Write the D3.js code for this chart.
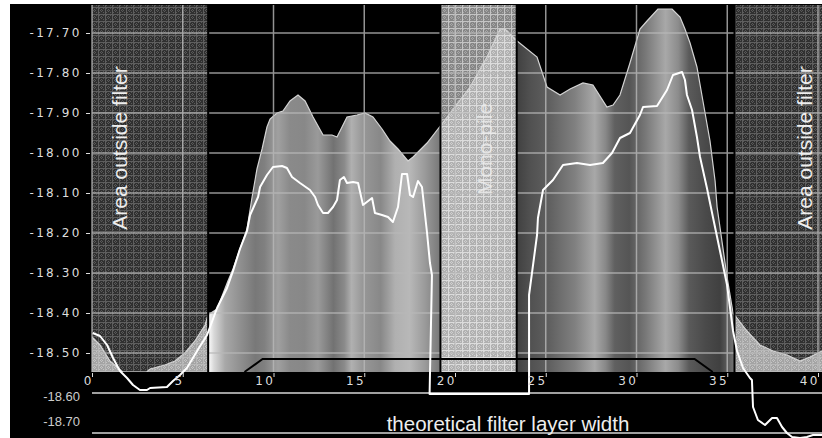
<!DOCTYPE html>
<html>
<head>
<meta charset="utf-8">
<script src="https://cdn.jsdelivr.net/npm/d3@7"></script>
<style>
  body { margin: 0; background: #fff; }
  svg { display: block; }
  .tick text { font-family: "DejaVu Sans", sans-serif; font-size: 12px; letter-spacing: 2.2px; fill: #dddddd; }
  .tick line { stroke: #dddddd; }
  .low { font-family: "Liberation Sans", Arial, sans-serif; font-size: 13px; fill: #cccccc; }
  .big { font-family: "Liberation Sans", Arial, sans-serif; font-size: 21px; fill: #eeeeee; }
</style>
</head>
<body>
<div id="chart"></div>
<script>

// chart values
var envX = [0, 0.44, 0.99, 1.71, 3.0, 3.2, 4.02, 4.57, 5.12, 5.67, 6.23, 6.39, 6.89, 7.49, 7.77, 8.15, 8.54, 8.82, 9.09, 9.37, 9.64, 9.81, 10.19, 10.52, 10.91, 11.35, 11.74, 12.18, 12.73, 13.22, 13.5, 14.05, 14.6, 15.04, 15.48, 15.98, 16.42, 16.86, 17.41, 17.69, 18.46, 19.06, 20.83, 21.76, 22.48, 22.75, 23.42, 24.52, 25.07, 25.79, 26.34, 27.05, 27.6, 28.37, 28.71, 29.09, 29.64, 30.19, 30.58, 31.18, 31.96, 32.4, 32.67, 32.95, 33.33, 33.66, 34.05, 34.33, 34.44, 34.99, 35.32, 36.09, 36.8, 37.52, 38.29, 39.01, 39.56, 40.22];
var envY = [-18.46, -18.48, -18.52, -18.548, -18.548, -18.54, -18.53, -18.52, -18.50, -18.47, -18.43, -18.405, -18.39, -18.32, -18.29, -18.24, -18.19, -18.11, -18.04, -17.99, -17.935, -17.915, -17.90, -17.895, -17.87, -17.855, -17.87, -17.91, -17.955, -17.955, -17.96, -17.91, -17.905, -17.90, -17.91, -17.94, -17.97, -17.99, -18.02, -18.01, -17.975, -17.94, -17.835, -17.76, -17.69, -17.69, -17.72, -17.76, -17.835, -17.855, -17.84, -17.825, -17.83, -17.885, -17.88, -17.855, -17.775, -17.69, -17.67, -17.64, -17.64, -17.66, -17.69, -17.725, -17.785, -17.87, -17.97, -18.07, -18.135, -18.31, -18.40, -18.445, -18.48, -18.495, -18.505, -18.52, -18.51, -18.495];

var lineX = [0.04, 0.44, 0.83, 1.16, 1.54, 1.93, 2.26, 2.64, 3.03, 3.2, 4.13, 4.46, 4.85, 5.23, 5.79, 6.34, 6.89, 7.44, 7.77, 8.15, 8.54, 8.71, 9.15, 9.26, 9.64, 9.97, 10.47, 10.74, 11.02, 11.46, 12.01, 12.29, 12.45, 12.73, 13.0, 13.28, 13.5, 13.66, 13.88, 14.05, 14.38, 14.66, 14.93, 15.43, 15.59, 15.98, 16.31, 16.58, 16.86, 17.08, 17.36, 17.52, 17.69, 17.96, 18.18, 18.46, 18.62, 18.73, 18.6, 24.08, 24.08, 24.52, 24.57, 24.85, 25.4, 25.95, 26.72, 27.44, 28.15, 28.65, 29.09, 29.64, 30.19, 30.36, 31.13, 31.68, 32.01, 32.51, 32.67, 32.78, 33.06, 33.33, 33.5, 33.88, 34.21, 34.6, 34.99, 35.32, 35.54, 35.87, 36.25, 36.36, 36.42, 36.69, 37.08, 37.47, 37.74, 38.02, 38.29, 38.57, 39.01, 39.39, 39.72, 40.22];
var lineY = [-18.45, -18.4575, -18.48, -18.5125, -18.545, -18.5625, -18.58, -18.5925, -18.5925, -18.5875, -18.585, -18.57, -18.555, -18.5375, -18.495, -18.455, -18.3875, -18.3375, -18.295, -18.24, -18.195, -18.155, -18.11, -18.085, -18.055, -18.035, -18.0325, -18.0375, -18.06, -18.075, -18.0925, -18.11, -18.13, -18.15, -18.15, -18.135, -18.1175, -18.0675, -18.06, -18.075, -18.0725, -18.075, -18.13, -18.1125, -18.15, -18.155, -18.16, -18.1725, -18.135, -18.0525, -18.0525, -18.105, -18.11, -18.07, -18.085, -18.20, -18.275, -18.305, -18.6025, -18.6025, -18.355, -18.205, -18.1625, -18.0925, -18.0675, -18.03, -18.025, -18.03, -18.025, -18.00, -17.9625, -17.95, -17.905, -17.885, -17.8825, -17.8425, -17.805, -17.7975, -17.8175, -17.855, -17.8925, -17.96, -18.01, -18.0875, -18.16, -18.245, -18.33, -18.445, -18.495, -18.5375, -18.5625, -18.5675, -18.635, -18.6675, -18.68, -18.6625, -18.6625, -18.685, -18.70, -18.71, -18.7125, -18.71, -18.705, -18.705];

var xTicks = [0, 5, 10, 15, 20, 25, 30, 35, 40];
var yTicks = [-17.70, -17.80, -17.90, -18.00, -18.10, -18.20, -18.30, -18.40, -18.50];
var lowTicks = [-18.60, -18.70];

var outsideZones = [[0, 6.4], [35.4, 40.3]];
var monoZone = [19.2, 23.4];
var filterX = [8.4, 9.4, 33.2, 34.2];
var filterY = [-18.5475, -18.515, -18.515, -18.5475];

// gray bands of the fill, [x, grey level]
var bandStops = [[6.39, 255], [6.72, 216], [7.33, 168], [8.15, 144], [9.0, 120], [9.5, 128], [10.25, 160], [10.9, 138], [11.7, 136], [12.45, 154], [13.3, 114], [13.9, 138], [14.3, 176], [14.9, 152], [15.9, 136], [16.7, 176], [17.5, 184], [18.35, 154], [19.2, 119],
  [23.4, 64], [24.1, 80], [25.2, 96], [26.6, 128], [27.7, 168], [28.3, 136], [28.8, 96], [29.6, 85], [30.5, 120], [31.6, 168], [32.3, 140], [32.9, 90], [33.8, 74], [34.6, 64], [35.3, 112]];

var envelope = envX.map(function(d, i) { return {x: d, y: envY[i]}; });
var profile = lineX.map(function(d, i) { return {x: d, y: lineY[i]}; });

var W = 822, H = 438;
var pLeft = 92, pRight = 822, pTop = 5, pBottom = 372;

var svg = d3.select("#chart")
  .append("svg")
    .attr("width", W)
    .attr("height", H);

var x = d3.scaleLinear()
  .domain([0, 40])
  .range([pLeft, 818]);

var y = d3.scaleLinear()
  .domain([-18.5475, -17.63])
  .range([pBottom, pTop]);

var lowLabel = d3.scaleLinear()
  .domain([-18.60, -18.70])
  .range([401, 426]);

var defs = svg.append("defs");

function makePattern(id, bg, dot, line) {
  var p = defs.append("pattern")
    .attr("id", id)
    .attr("patternUnits", "userSpaceOnUse")
    .attr("width", 7)
    .attr("height", 7);
  p.append("rect").attr("width", 7).attr("height", 7).attr("fill", bg);
  [[3, 2], [2, 3], [4, 3], [3, 4], [5, 5], [1, 5], [5, 1], [1, 1]].forEach(function(c) {
    p.append("rect").attr("x", c[0]).attr("y", c[1]).attr("width", 1).attr("height", 1).attr("fill", dot);
  });
  p.append("rect").attr("width", 7).attr("height", 1).attr("fill", line);
  p.append("rect").attr("width", 1).attr("height", 7).attr("fill", line);
}
makePattern("outDark", "#303030", "#5a5a5a", "#5e5e5e");
makePattern("outLight", "#a4a4a4", "#c4c4c4", "#b8b8b8");
makePattern("monoDark", "#858585", "#a8a8a8", "#c4c4c4");
makePattern("monoLight", "#b0b0b0", "#cfcfcf", "#dcdcdc");

var grad = defs.append("linearGradient")
  .attr("id", "bands")
  .attr("gradientUnits", "userSpaceOnUse")
  .attr("x1", x(bandStops[0][0]))
  .attr("x2", x(bandStops[bandStops.length - 1][0]))
  .attr("y1", 0)
  .attr("y2", 0);
var span = bandStops[bandStops.length - 1][0] - bandStops[0][0];
grad.selectAll("stop")
  .data(bandStops)
  .enter()
  .append("stop")
    .attr("offset", function(d) { return (d[0] - bandStops[0][0]) / span; })
    .attr("stop-color", function(d) { return d3.rgb(d[1], d[1], d[1]); });

function clipRects(id, zones) {
  var c = defs.append("clipPath").attr("id", id);
  zones.forEach(function(z) {
    c.append("rect")
      .attr("x", x(z[0]))
      .attr("y", pTop)
      .attr("width", Math.min(x(z[1]), pRight) - x(z[0]))
      .attr("height", pBottom - pTop);
  });
}
clipRects("clipOut", outsideZones);
clipRects("clipMono", [monoZone]);
clipRects("clipFilter", [[outsideZones[0][1], monoZone[0]], [monoZone[1], outsideZones[1][0]]]);
clipRects("clipPlot", [[0, 40.3]]);

// background
svg.append("rect")
  .attr("x", 10)
  .attr("y", 4)
  .attr("width", W - 10)
  .attr("height", H - 4)
  .attr("fill", "#000");

// hatched zones
var zones = svg.append("g");
zones.selectAll("rect.out")
  .data(outsideZones)
  .enter()
  .append("rect")
    .attr("x", function(d) { return x(d[0]); })
    .attr("y", pTop)
    .attr("width", function(d) { return Math.min(x(d[1]), pRight) - x(d[0]); })
    .attr("height", pBottom - pTop)
    .attr("fill", "url(#outDark)");
zones.append("rect")
  .attr("x", x(monoZone[0]))
  .attr("y", pTop)
  .attr("width", x(monoZone[1]) - x(monoZone[0]))
  .attr("height", pBottom - pTop)
  .attr("fill", "url(#monoDark)");

var area = d3.area()
  .x(function(d) { return x(d.x); })
  .y0(pBottom)
  .y1(function(d) { return y(d.y); });

svg.append("path")
  .datum(envelope)
  .attr("d", area)
  .attr("fill", "url(#bands)")
  .attr("clip-path", "url(#clipFilter)");
svg.append("path")
  .datum(envelope)
  .attr("d", area)
  .attr("fill", "url(#outLight)")
  .attr("clip-path", "url(#clipOut)");
svg.append("path")
  .datum(envelope)
  .attr("d", area)
  .attr("fill", "url(#monoLight)")
  .attr("clip-path", "url(#clipMono)");
svg.append("path")
  .datum(envelope)
  .attr("d", d3.line().x(function(d) { return x(d.x); }).y(function(d) { return y(d.y); }))
  .attr("fill", "none")
  .attr("stroke", "#d4d4d4")
  .attr("stroke-width", 1.2)
  .attr("clip-path", "url(#clipPlot)");

// grid
var grid = svg.append("g")
  .attr("stroke", "#b8b8b8")
  .attr("stroke-width", 1.5)
  .attr("opacity", 0.8);
grid.selectAll("line.h")
  .data(yTicks)
  .enter()
  .append("line")
    .attr("x1", pLeft)
    .attr("x2", pRight)
    .attr("y1", function(d) { return y(d); })
    .attr("y2", function(d) { return y(d); });
grid.selectAll("line.v")
  .data(xTicks)
  .enter()
  .append("line")
    .attr("x1", function(d) { return x(d); })
    .attr("x2", function(d) { return x(d); })
    .attr("y1", pTop)
    .attr("y2", pBottom);

// zone borders
var borders = [outsideZones[0][1], monoZone[0], monoZone[1], outsideZones[1][0]];
svg.append("g")
  .selectAll("line")
  .data(borders)
  .enter()
  .append("line")
    .attr("x1", function(d) { return x(d); })
    .attr("x2", function(d) { return x(d); })
    .attr("y1", pTop)
    .attr("y2", pBottom)
    .attr("stroke", "#000")
    .attr("stroke-width", 2);

// theoretical filter layer
svg.append("path")
  .datum(filterX.map(function(d, i) { return [x(d), y(filterY[i])]; }))
  .attr("d", d3.line())
  .attr("fill", "none")
  .attr("stroke", "#000")
  .attr("stroke-width", 2);

// lower reference lines
svg.append("g")
  .selectAll("line")
  .data(lowTicks)
  .enter()
  .append("line")
    .attr("x1", pLeft)
    .attr("x2", pRight)
    .attr("y1", function(d) { return y(d); })
    .attr("y2", function(d) { return y(d); })
    .attr("stroke", "#a0a0a0")
    .attr("stroke-width", 2);

svg.append("path")
  .datum(profile)
  .attr("d", d3.line().x(function(d) { return x(d.x); }).y(function(d) { return y(d.y); }))
  .attr("fill", "none")
  .attr("stroke", "#fff")
  .attr("stroke-width", 2)
  .attr("stroke-linejoin", "round");

// axes
var yAxis = svg.append("g")
  .attr("transform", "translate(90,0)")
  .call(d3.axisLeft(y).tickValues(yTicks).tickSize(4).tickPadding(4.5).tickFormat(function(d) { return d.toFixed(2); }));
yAxis.select(".domain").remove();

var xAxis = svg.append("g")
  .attr("transform", "translate(0," + pBottom + ")")
  .call(d3.axisBottom(x).tickValues(xTicks).tickSize(5).tickFormat(function(d) { return d; }));
xAxis.select(".domain").remove();
xAxis.selectAll(".tick line").attr("y1", 1);
xAxis.selectAll(".tick text")
  .attr("text-anchor", "end")
  .attr("x", 1)
  .attr("y", 13)
  .attr("dy", 0);

svg.append("g")
  .selectAll("text")
  .data(lowTicks)
  .enter()
  .append("text")
    .classed("low", true)
    .attr("text-anchor", "end")
    .attr("x", 80)
    .attr("y", function(d) { return lowLabel(d); })
    .text(function(d) { return d.toFixed(2); });

// labels
var labels = svg.append("g");
labels.append("text")
  .classed("big", true)
  .attr("text-anchor", "middle")
  .attr("transform", "translate(127,148) rotate(-90)")
  .text("Area outside filter");
labels.append("text")
  .classed("big", true)
  .attr("text-anchor", "middle")
  .attr("transform", "translate(812,148) rotate(-90)")
  .text("Area outside filter");
labels.append("text")
  .classed("big", true)
  .attr("text-anchor", "middle")
  .attr("opacity", 0.8)
  .attr("transform", "translate(492,149) rotate(-90)")
  .text("Mono-pile");
labels.append("text")
  .classed("big", true)
  .style("font-size", "20.5px")
  .attr("text-anchor", "middle")
  .attr("x", 508)
  .attr("y", 431)
  .text("theoretical filter layer width");

</script>
</body>
</html>
